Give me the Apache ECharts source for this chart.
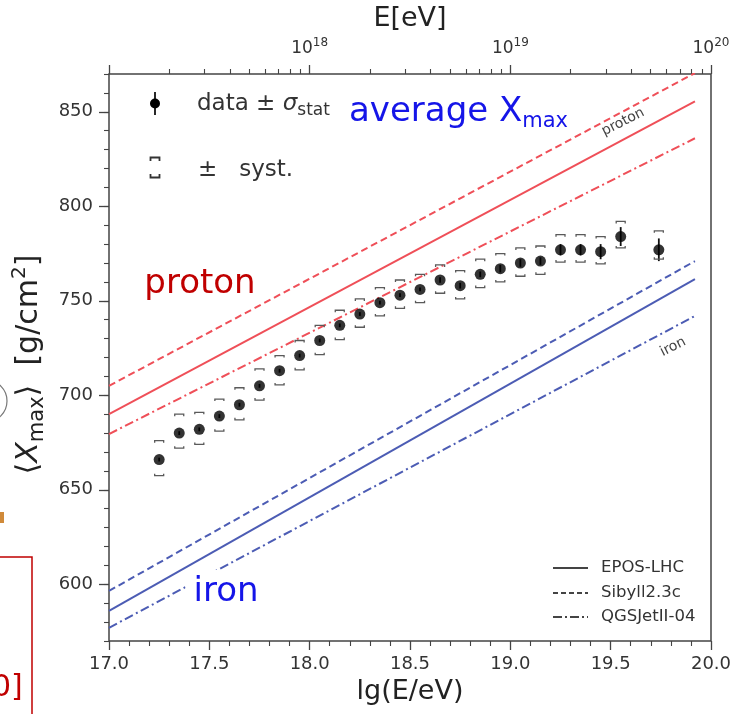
<!DOCTYPE html>
<html>
<head>
<meta charset="utf-8">
<script src="https://cdn.jsdelivr.net/npm/echarts@6/dist/echarts.min.js"></script>
<style>
  html, body { margin: 0; padding: 0; background: #ffffff; }
  #chart { width: 738px; height: 714px; }
</style>
</head>
<body>
<div id="chart"></div>
<script>
// Mean depth of shower maximum <Xmax> versus energy, with model expectations.

// Measured points: lg(E/eV), <Xmax> [g/cm^2], statistical and systematic uncertainties
const lgE      = [17.25, 17.35, 17.45, 17.55, 17.65, 17.75, 17.85, 17.95, 18.05, 18.15, 18.25, 18.35, 18.45,
                  18.55, 18.65, 18.75, 18.85, 18.95, 19.05, 19.15, 19.25, 19.35, 19.45, 19.55, 19.74];
const xmaxMean = [666, 680, 682, 689, 695, 705, 713, 721, 729, 737, 743, 749, 753,
                  756, 761, 758, 764, 767, 770, 771, 777, 777, 776, 784, 777];
const statErr  = [1, 1, 1, 1, 1, 1, 1, 1, 1, 1, 1, 1, 1,
                  1, 1.5, 1.5, 1.5, 2, 2, 2, 3, 3, 4, 5, 6];
const systUp   = [10, 10, 9, 9, 9, 9, 8, 8, 8, 8, 8, 8, 8,
                  8, 8, 8, 8, 8, 8, 8, 8, 8, 8, 8, 10];
const systDown = [8.5, 8, 8, 8, 8, 7.5, 7.5, 7.5, 7.5, 7.5, 7, 7, 7,
                  7, 7, 7, 7, 7, 7, 7, 6.5, 6.5, 6.5, 6, 5];

// Model lines: <Xmax> at the two ends of the energy range
const modelLgE     = [17.0, 19.92];
const protonEPOS   = [690, 855.5];
const protonSibyll = [705, 870.5];
const protonQGS    = [679.5, 836];
const ironEPOS     = [586, 761.5];
const ironSibyll   = [596.5, 771];
const ironQGS      = [577, 742];

// Axis ticks
const yTickValues   = [600, 650, 700, 750, 800, 850];
const topDecades    = [18, 19, 20];
const topMajorTicks = [17, 18, 19, 20];
const topMinorFactors = [2, 3, 4, 5, 6, 7, 8, 9];

const topMinorTicks = [];
[17, 18, 19].forEach(d => topMinorFactors.forEach(k => topMinorTicks.push(d + Math.log10(k))));

const FONT = '"DejaVu Sans", sans-serif';
const AXIS_COLOR = '#444';
const TEXT_COLOR = '#333';
const RED = '#ef4f58';
const BLUE = '#4c5cb4';
const DASH = [7, 4];
const DASHDOT = [9, 3.5, 2, 3.5];

function modelSeries(name, values, color, type) {
  return {
    name: name,
    type: 'line',
    xAxisIndex: 0, yAxisIndex: 0,
    data: modelLgE.map((x, i) => [x, values[i]]),
    symbol: 'none',
    silent: true,
    lineStyle: { color: color, width: 2, type: type },
    z: 2
  };
}

const errorData = lgE.map((x, i) => [x, xmaxMean[i], statErr[i], systUp[i], systDown[i]]);

const chart = echarts.init(document.getElementById('chart'), null, { renderer: 'canvas' });

const option = {
  backgroundColor: '#ffffff',
  animation: false,
  grid: {
    left: 109, right: 27, top: 72, bottom: 73,
    show: true, borderColor: AXIS_COLOR, borderWidth: 1.5, backgroundColor: 'transparent'
  },
  xAxis: [
    {
      type: 'value', position: 'bottom', min: 17, max: 20, interval: 0.5,
      axisLine: { show: false },
      axisTick: { show: true, inside: false, length: 9, lineStyle: { color: AXIS_COLOR, width: 1.3 } },
      minorTick: { show: true, splitNumber: 5, length: 5, lineStyle: { color: AXIS_COLOR, width: 1.1 } },
      axisLabel: { formatter: v => v.toFixed(1), fontSize: 18, fontFamily: FONT, color: TEXT_COLOR, margin: 14 },
      splitLine: { show: false },
      name: 'lg(E/eV)', nameLocation: 'middle', nameGap: 37,
      nameTextStyle: { fontSize: 27, fontFamily: FONT, color: '#222' }
    },
    {
      type: 'value', position: 'top', min: 17, max: 20,
      axisLine: { show: false },
      axisTick: { show: true, inside: false, length: 9, customValues: topMajorTicks, lineStyle: { color: AXIS_COLOR, width: 1.3 } },
      axisLabel: {
        customValues: topDecades, margin: 13, fontFamily: FONT, color: TEXT_COLOR,
        formatter: v => '{b|10}{s|' + Math.round(v) + '}',
        rich: {
          b: { fontSize: 17, fontFamily: FONT, color: TEXT_COLOR, lineHeight: 24 },
          s: { fontSize: 12, fontFamily: FONT, color: TEXT_COLOR, lineHeight: 14, verticalAlign: 'top' }
        }
      },
      splitLine: { show: false },
      name: 'E[eV]', nameLocation: 'middle', nameGap: 42,
      nameTextStyle: { fontSize: 27, fontFamily: FONT, color: '#222' }
    },
    {
      type: 'value', position: 'top', min: 17, max: 20,
      axisLine: { show: false },
      axisTick: { show: true, inside: false, length: 5, customValues: topMinorTicks, lineStyle: { color: AXIS_COLOR, width: 1.1 } },
      axisLabel: { show: false },
      splitLine: { show: false }
    }
  ],
  yAxis: [
    {
      type: 'value', position: 'left', min: 570, max: 870,
      axisLine: { show: false },
      axisTick: { show: true, inside: false, length: 10, customValues: yTickValues, lineStyle: { color: AXIS_COLOR, width: 1.3 } },
      axisLabel: { customValues: yTickValues, fontSize: 18, fontFamily: FONT, color: TEXT_COLOR, margin: 16 },
      splitLine: { show: false },
      name: '{a|⟨}{x|X}{s|max}{a|⟩  [g/cm}{p|2}{a|]}',
      nameLocation: 'middle', nameRotate: 90, nameGap: 53,
      nameTextStyle: {
        fontSize: 30, fontFamily: FONT, color: '#222', padding: [0, 14, 0, 0],
        rich: {
          a: { fontSize: 30, fontFamily: FONT, color: '#222', lineHeight: 38 },
          x: { fontSize: 30, fontFamily: FONT, fontStyle: 'italic', color: '#222', lineHeight: 38 },
          s: { fontSize: 21, fontFamily: FONT, color: '#222', lineHeight: 18, verticalAlign: 'bottom' },
          p: { fontSize: 20, fontFamily: FONT, color: '#222', lineHeight: 25, verticalAlign: 'top' }
        }
      }
    },
    {
      type: 'value', position: 'left', min: 570, max: 870, interval: 10,
      axisLine: { show: false },
      axisTick: { show: true, inside: false, length: 5, lineStyle: { color: AXIS_COLOR, width: 1.1 } },
      axisLabel: { show: false },
      splitLine: { show: false }
    }
  ],
  series: [
    modelSeries('proton EPOS-LHC', protonEPOS, RED, 'solid'),
    modelSeries('proton Sibyll2.3c', protonSibyll, RED, DASH),
    modelSeries('proton QGSJetII-04', protonQGS, RED, DASHDOT),
    modelSeries('iron EPOS-LHC', ironEPOS, BLUE, 'solid'),
    modelSeries('iron Sibyll2.3c', ironSibyll, BLUE, DASH),
    modelSeries('iron QGSJetII-04', ironQGS, BLUE, DASHDOT),
    {
      name: 'uncertainties',
      type: 'custom',
      xAxisIndex: 0, yAxisIndex: 0,
      data: errorData,
      encode: { x: 0, y: 1 },
      silent: true,
      z: 4,
      renderItem: function (params, api) {
        const x = api.value(0), y = api.value(1);
        const s = api.value(2), su = api.value(3), sd = api.value(4);
        const cx = api.coord([x, y])[0];
        const yTop = api.coord([x, y + s])[1];
        const yBot = api.coord([x, y - s])[1];
        const yU = api.coord([x, y + su])[1];
        const yL = api.coord([x, y - sd])[1];
        const w = 4.5, leg = 2;
        const bracket = '#5a5a5a';
        return {
          type: 'group',
          children: [
            { type: 'line', shape: { x1: cx, y1: yTop, x2: cx, y2: yBot }, style: { stroke: '#111', lineWidth: 1.8 } },
            { type: 'polyline', shape: { points: [[cx - w, yU + leg], [cx - w, yU], [cx + w, yU], [cx + w, yU + leg]] },
              style: { stroke: bracket, fill: null, lineWidth: 1.3 } },
            { type: 'polyline', shape: { points: [[cx - w, yL - leg], [cx - w, yL], [cx + w, yL], [cx + w, yL - leg]] },
              style: { stroke: bracket, fill: null, lineWidth: 1.3 } }
          ]
        };
      }
    },
    {
      name: 'data',
      type: 'scatter',
      xAxisIndex: 0, yAxisIndex: 0,
      data: lgE.map((x, i) => [x, xmaxMean[i]]),
      symbol: 'circle', symbolSize: 11,
      itemStyle: { color: '#000' },
      silent: true,
      z: 5
    }
  ],
  graphic: [
    // data / systematics key
    { type: 'line', shape: { x1: 155, y1: 92, x2: 155, y2: 115 }, style: { stroke: '#111', lineWidth: 1.8 } },
    { type: 'circle', shape: { cx: 155, cy: 103.5, r: 5 }, style: { fill: '#000' } },
    { type: 'text', x: 197, y: 104, style: {
        text: '{a|data ± }{g|σ}{s|stat}', fill: TEXT_COLOR, verticalAlign: 'middle',
        rich: {
          a: { fontSize: 23, fontFamily: FONT, fill: TEXT_COLOR, lineHeight: 30 },
          g: { fontSize: 23, fontFamily: FONT, fontStyle: 'italic', fill: TEXT_COLOR, lineHeight: 30 },
          s: { fontSize: 17, fontFamily: FONT, fill: TEXT_COLOR, lineHeight: 15, verticalAlign: 'bottom' }
        } } },
    { type: 'polyline', shape: { points: [[150.5, 161], [150.5, 157.5], [159.5, 157.5], [159.5, 161]] },
      style: { stroke: '#333', fill: null, lineWidth: 1.8 } },
    { type: 'polyline', shape: { points: [[150.5, 174], [150.5, 177.5], [159.5, 177.5], [159.5, 174]] },
      style: { stroke: '#333', fill: null, lineWidth: 1.8 } },
    { type: 'text', x: 198, y: 170, style: { text: '±   syst.', font: '23px ' + FONT, fill: TEXT_COLOR, verticalAlign: 'middle' } },

    // model key
    { type: 'line', shape: { x1: 553, y1: 568, x2: 588, y2: 568 }, style: { stroke: '#444', lineWidth: 1.8 } },
    { type: 'line', shape: { x1: 553, y1: 593, x2: 588, y2: 593 }, style: { stroke: '#444', lineWidth: 1.8, lineDash: [5, 3] } },
    { type: 'line', shape: { x1: 553, y1: 617, x2: 588, y2: 617 }, style: { stroke: '#444', lineWidth: 1.8, lineDash: [9, 3, 2, 3] } },
    { type: 'text', x: 601, y: 568, style: { text: 'EPOS-LHC', font: '16.5px ' + FONT, fill: TEXT_COLOR, verticalAlign: 'middle' } },
    { type: 'text', x: 601, y: 593, style: { text: 'Sibyll2.3c', font: '16.5px ' + FONT, fill: TEXT_COLOR, verticalAlign: 'middle' } },
    { type: 'text', x: 601, y: 617, style: { text: 'QGSJetII-04', font: '16.5px ' + FONT, fill: TEXT_COLOR, verticalAlign: 'middle' } },

    // labels along the model lines
    { type: 'text', x: 623, y: 122, rotation: 0.47, z: 10, style: {
        text: 'proton', font: '14px ' + FONT, fill: '#444', align: 'center', verticalAlign: 'middle' } },
    { type: 'text', x: 673, y: 347, rotation: 0.47, z: 10, style: {
        text: 'iron', font: '14px ' + FONT, fill: '#444', align: 'center', verticalAlign: 'middle' } },

    // headline annotations
    { type: 'text', x: 349, y: 112, z: 10, style: {
        text: '{a|average X}{s|max}', verticalAlign: 'middle',
        rich: {
          a: { fontSize: 34, fontFamily: FONT, fill: '#1515e8', lineHeight: 40 },
          s: { fontSize: 21, fontFamily: FONT, fill: '#1515e8', lineHeight: 18, verticalAlign: 'bottom' }
        } } },
    { type: 'text', x: 200, y: 284, z: 10, style: {
        text: 'proton', font: '34px ' + FONT, fill: '#c00000', align: 'center', verticalAlign: 'middle' } },
    { type: 'text', x: 226, y: 592, z: 10, style: {
        text: 'iron', font: '34px ' + FONT, fill: '#1515e8', align: 'center', verticalAlign: 'middle',
        backgroundColor: '#ffffff', padding: [6, 8, 4, 8] } },

    // page fragments at the left edge
    { type: 'arc', shape: { cx: -14, cy: 401, r: 21, startAngle: -Math.PI / 2, endAngle: Math.PI / 2 },
      style: { stroke: '#777', fill: null, lineWidth: 1.2 } },
    { type: 'rect', shape: { x: 0, y: 512, width: 4, height: 11 }, style: { fill: '#d08a3a' } },
    { type: 'polyline', shape: { points: [[0, 557], [32, 557], [32, 714]] }, style: { stroke: '#c00000', fill: null, lineWidth: 1.5 } },
    { type: 'text', x: -8, y: 688, style: { text: '0]', font: '30px ' + FONT, fill: '#c00000', verticalAlign: 'middle' } }
  ]
};

chart.setOption(option);
</script>
</body>
</html>
